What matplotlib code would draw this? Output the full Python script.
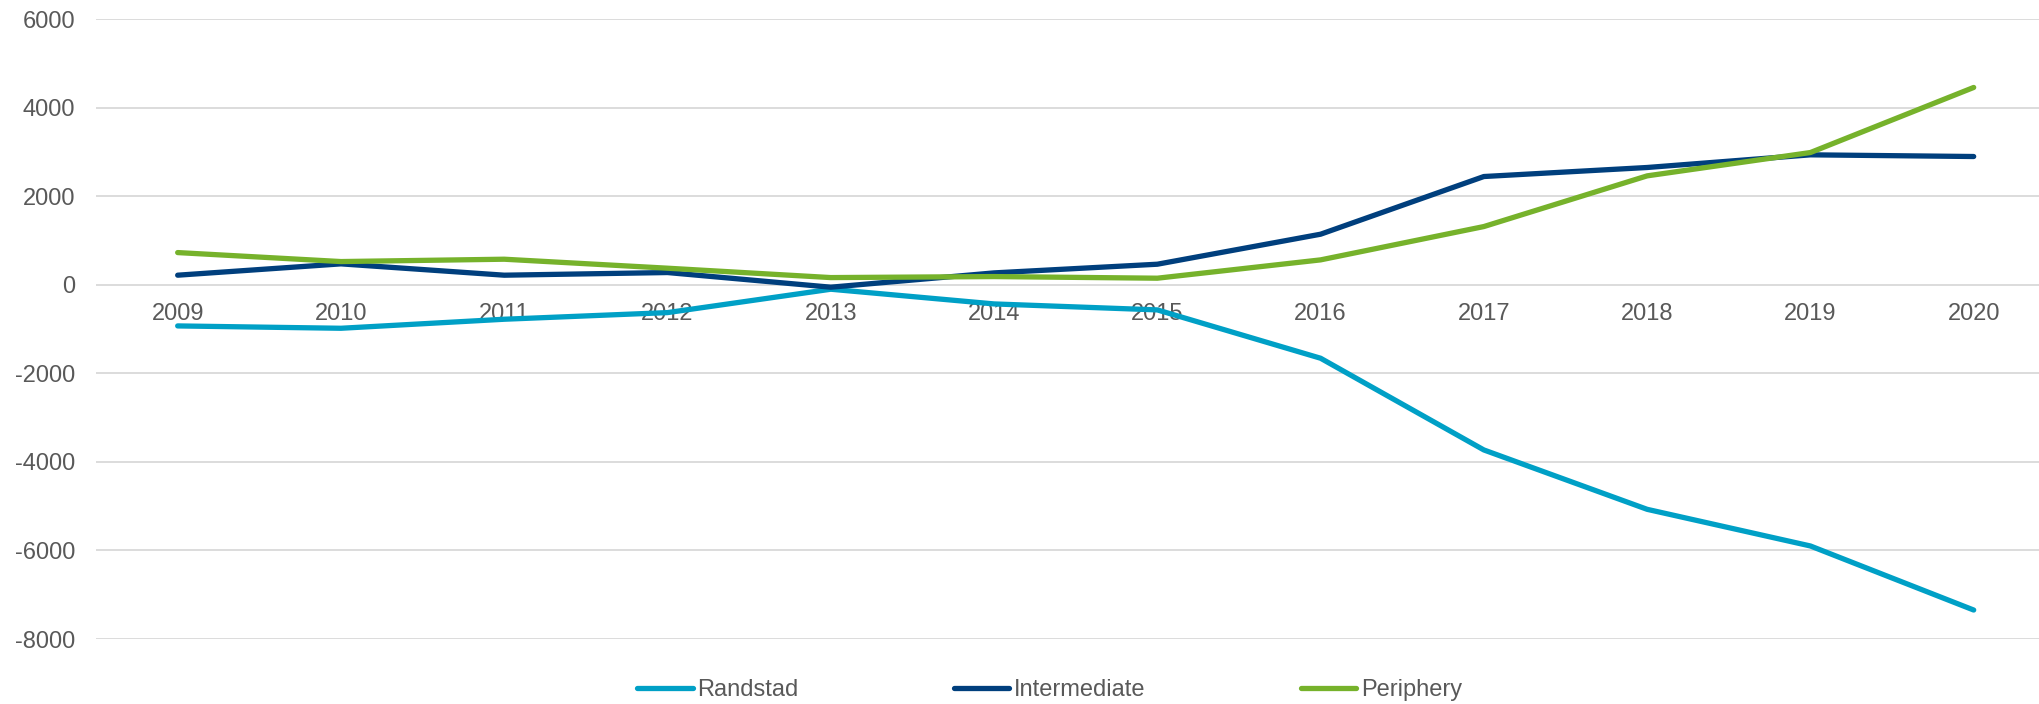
import matplotlib
matplotlib.use('Agg')
import matplotlib.pyplot as plt

years = ['2009', '2010', '2011', '2012', '2013', '2014', '2015', '2016', '2017', '2018', '2019', '2020']
randstad = [-927, -980, -776, -626, -98, -430, -565, -1657, -3729, -5070, -5898, -7345]
intermediate = [219, 475, 219, 279, -52, 271, 467, 1145, 2448, 2652, 2938, 2900]
periphery = [730, 527, 580, 377, 165, 188, 151, 565, 1318, 2463, 2990, 4460]

series_names = ['Randstad', 'Intermediate', 'Periphery']
colors = ['#00A0C6', '#003F7D', '#76B22B']
text_col = '#595959'

plt.rcParams['font.family'] = ['Liberation Sans', 'DejaVu Sans']
plt.rcParams['font.size'] = 17
plt.rcParams['axes.unicode_minus'] = False

fig = plt.figure(figsize=(20.39, 7.04), dpi=100)
ax = fig.add_axes([0.0471, 0.0923, 0.9529, 0.8803])

x = range(len(years))
for vals, name, c in zip([randstad, intermediate, periphery], series_names, colors):
    ax.plot(x, vals, color=c, lw=3.8, label=name,
            solid_capstyle='round', solid_joinstyle='round')

ax.set_xlim(-0.5, 11.4)
ax.set_ylim(-8000, 6000)
ax.set_yticks(range(-8000, 6001, 2000))
ax.set_xticks(list(x))
ax.set_xticklabels(years)

# category axis crosses at zero like in the spreadsheet chart
ax.spines['bottom'].set_position(('data', 0))
for s in ax.spines.values():
    s.set_visible(False)

ax.grid(axis='y', color='#D9D9D9', lw=1.3)
ax.tick_params(axis='both', length=0, colors=text_col, labelsize=17)
ax.tick_params(axis='x', pad=13)
ax.tick_params(axis='y', pad=15)

fig.legend(loc='center', bbox_to_anchor=(0.5147, 0.02), ncol=3, frameon=False,
           fontsize=17, handlelength=2.35, handletextpad=0.18, columnspacing=6.6,
           labelcolor=text_col, borderaxespad=0)

fig.savefig('out.png', dpi=100)
